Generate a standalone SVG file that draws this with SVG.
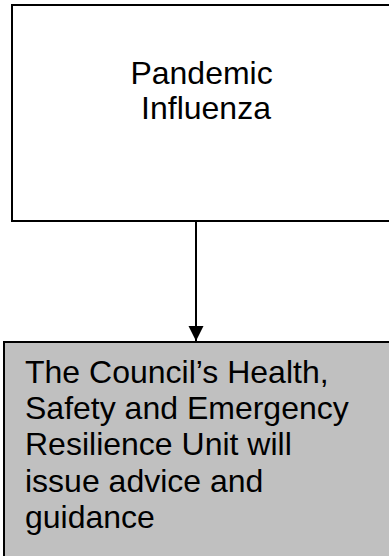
<svg xmlns="http://www.w3.org/2000/svg" width="389" height="556" viewBox="0 0 389 556">
  <style>
    .box { stroke: #000; stroke-width: 2; }
    .label { font-family: "Liberation Sans", Arial, sans-serif; font-size: 32px; fill: #000; }
    .conn { stroke: #000; stroke-width: 2; fill: none; }
  </style>
  <defs>
    <marker id="arrow" markerUnits="userSpaceOnUse" markerWidth="16" markerHeight="16" refX="15" refY="7.5" orient="auto">
      <path d="M0,0 L15,7.5 L0,15 Z" fill="#000"/>
    </marker>
  </defs>

  <g id="node-pandemic">
    <rect class="box" x="12" y="5" width="400" height="216" fill="#fff"/>
    <text class="label" text-anchor="middle">
      <tspan x="206" y="84">Pandemic</tspan>
      <tspan x="206" y="119">Influenza</tspan>
    </text>
  </g>

  <g id="node-council">
    <rect class="box" x="4" y="342" width="400" height="230" fill="#c0c0c0"/>
    <text class="label">
      <tspan x="25" y="383">The Council’s Health,</tspan>
      <tspan x="25" y="419">Safety and Emergency</tspan>
      <tspan x="25" y="455">Resilience Unit will</tspan>
      <tspan x="25" y="492">issue advice and</tspan>
      <tspan x="25" y="528">guidance</tspan>
    </text>
  </g>

  <g id="connectors">
    <line class="conn" x1="196" y1="222" x2="196" y2="341" marker-end="url(#arrow)"/>
  </g>
</svg>
